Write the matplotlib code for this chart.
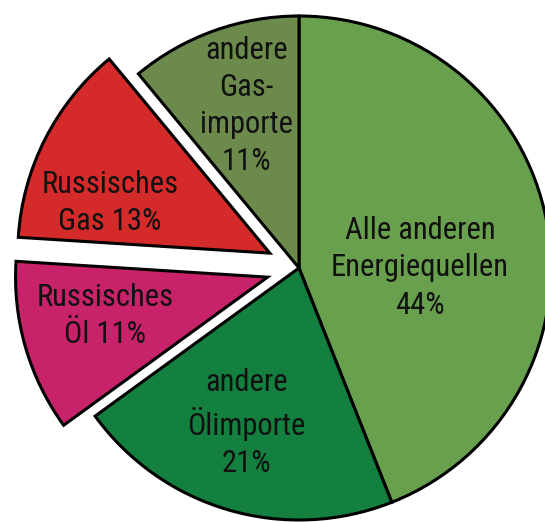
import matplotlib.pyplot as plt

# Anteile am Energieverbrauch (im Uhrzeigersinn ab 12 Uhr)
labels = ["Alle anderen\nEnergiequellen\n44%",
          "andere\nÖlimporte\n21%",
          "Russisches\nÖl 11%",
          "Russisches\nGas 13%",
          "andere\nGas-\nimporte\n11%"]
shares = [44, 21, 11, 13, 11]

colors = ["#68a04e", "#13803f", "#c8226a", "#d42a2a", "#6b8a4b"]
explode = [0, 0, 0.13, 0.13, 0]
# label positions in units of the pie radius
label_pos = [(0.48, 0.0), (-0.21, -0.615), (-0.77, -0.19), (-0.75, 0.258), (-0.21, 0.643)]

plt.rcParams['font.family'] = ['Roboto Condensed', 'DejaVu Sans']

fig = plt.figure(figsize=(5.45, 5.22), dpi=100)
ax = fig.add_axes([0, 0, 1, 1])

wedges, _ = ax.pie(shares, colors=colors, explode=explode, startangle=90,
                   counterclock=False, radius=1.0,
                   wedgeprops=dict(edgecolor="black", linewidth=2.2))

for txt, (x, y) in zip(labels, label_pos):
    ax.text(x, y, txt, ha="center", va="center", fontsize=22,
            linespacing=1.35, color="#111111")

ax.set_xlim(-299 / 252, 246 / 252)
ax.set_ylim(-254 / 252, 268 / 252)
ax.set_aspect("equal")
ax.axis("off")

fig.savefig("out.png", dpi=100)
